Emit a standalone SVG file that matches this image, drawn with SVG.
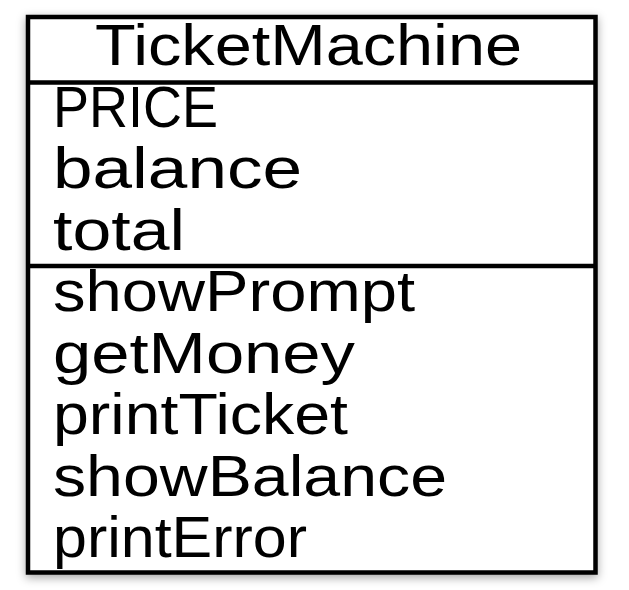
<svg xmlns="http://www.w3.org/2000/svg" width="629" height="590" viewBox="0 0 629 590">
  <defs>
    <filter id="shadow" x="-10%" y="-10%" width="120%" height="120%">
      <feDropShadow dx="0" dy="3" stdDeviation="5" flood-color="#000" flood-opacity="0.35"/>
    </filter>
  </defs>
  <style>
    .box { fill: #ffffff; stroke: #000000; stroke-width: 4.5; }
    .div { stroke: #000000; stroke-width: 4.5; fill: none; }
    .t { font-family: "Liberation Sans", Arial, sans-serif; font-size: 57px; fill: #000000; }
  </style>
  <rect width="629" height="590" fill="#ffffff"/>
  <g id="TicketMachine">
    <rect class="box" x="28" y="17" width="567.5" height="555.5" filter="url(#shadow)"/>
    <line class="div" x1="28" y1="82.5" x2="595.5" y2="82.5"/>
    <line class="div" x1="28" y1="266" x2="595.5" y2="266"/>
    <text class="t" x="95" y="65" textLength="427" lengthAdjust="spacingAndGlyphs">TicketMachine</text>
    <text class="t" x="53" y="127" textLength="165" lengthAdjust="spacingAndGlyphs">PRICE</text>
    <text class="t" x="53" y="188" textLength="249" lengthAdjust="spacingAndGlyphs">balance</text>
    <text class="t" x="53" y="250" textLength="132" lengthAdjust="spacingAndGlyphs">total</text>
    <text class="t" x="53" y="311" textLength="362" lengthAdjust="spacingAndGlyphs">showPrompt</text>
    <text class="t" x="53" y="373" textLength="302" lengthAdjust="spacingAndGlyphs">getMoney</text>
    <text class="t" x="53" y="434" textLength="295" lengthAdjust="spacingAndGlyphs">printTicket</text>
    <text class="t" x="53" y="496" textLength="394" lengthAdjust="spacingAndGlyphs">showBalance</text>
    <text class="t" x="53" y="557" textLength="254" lengthAdjust="spacingAndGlyphs">printError</text>
  </g>
</svg>
